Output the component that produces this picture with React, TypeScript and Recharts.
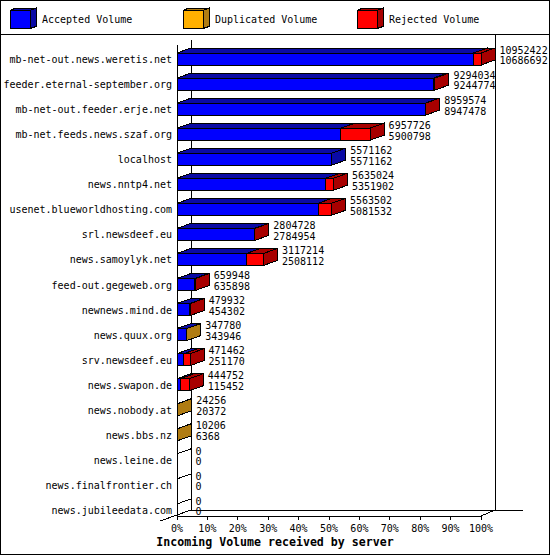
import React from 'react';
import { BarChart, Bar, XAxis, YAxis } from 'recharts';

const servers = [
  'mb-net-out.news.weretis.net',
  'feeder.eternal-september.org',
  'mb-net-out.feeder.erje.net',
  'mb-net.feeds.news.szaf.org',
  'localhost',
  'news.nntp4.net',
  'usenet.blueworldhosting.com',
  'srl.newsdeef.eu',
  'news.samoylyk.net',
  'feed-out.gegeweb.org',
  'newnews.mind.de',
  'news.quux.org',
  'srv.newsdeef.eu',
  'news.swapon.de',
  'news.nobody.at',
  'news.bbs.nz',
  'news.leine.de',
  'news.finalfrontier.ch',
  'news.jubileedata.com',
];
const offered = [10952422, 9294034, 8959574, 6957726, 5571162, 5635024, 5563502, 2804728, 3117214, 659948, 479932, 347780, 471462, 444752, 24256, 10206, 0, 0, 0];
const accepted = [10686692, 9244774, 8947478, 5900798, 5571162, 5351902, 5081532, 2784954, 2508112, 635898, 454302, 343946, 251170, 115452, 20372, 6368, 0, 0, 0];
const duplicated = [0, 0, 0, 0, 0, 0, 0, 0, 0, 0, 0, 3834, 0, 0, 3884, 3838, 0, 0, 0];
const rejected = [265730, 49260, 12096, 1056928, 0, 283122, 481970, 19774, 609102, 24050, 25630, 0, 220292, 329300, 0, 0, 0, 0, 0];
const tickPercents = [0, 10, 20, 30, 40, 50, 60, 70, 80, 90, 100];

const FONT = '"DejaVu Sans Mono", monospace';
const W = 550;
const H = 555;
const PLOT_LEFT = 177;
const PLOT_TOP = 40;
const PLOT_RIGHT = 481;
const PLOT_BOTTOM = 516;
const DX = 14;
const DY = 5;
const FACE_H = 12;

const series = [
  { key: 'accepted', name: 'Accepted Volume', face: '#0000ff', side: '#0a0aa5' },
  { key: 'duplicated', name: 'Duplicated Volume', face: '#ffb000', side: '#b07c12' },
  { key: 'rejected', name: 'Rejected Volume', face: '#ff0000', side: '#a80000' },
];

const rows = servers.map((name, i) => ({
  name,
  offered: offered[i],
  accepted: accepted[i],
  duplicated: duplicated[i],
  rejected: rejected[i],
}));

const MAX = Math.max(...offered);
const tickValues = tickPercents.map((p) => (p / 100) * MAX);

const box = (x: number, w: number, top: number, bot: number, face: string, side: string) => (
  <g>
    <polygon
      points={`${x},${top} ${x + DX},${top - DY} ${x + w + DX},${top - DY} ${x + w},${top}`}
      fill={side}
      stroke="#000"
    />
    <rect x={x} y={top} width={w} height={bot - top} fill={face} stroke="#000" />
    <polygon
      points={`${x + w},${top} ${x + w + DX},${top - DY} ${x + w + DX},${bot - DY} ${x + w},${bot}`}
      fill={side}
      stroke="#000"
    />
  </g>
);

const makeShape = (key: string, face: string, side: string) => (props: any) => {
  const { x, y, width, height, payload } = props;
  const cy = y + height / 2;
  const top = cy + 0.5;
  const bot = top + FACE_H;
  const v = payload[key];
  const w = Math.max(0, width || 0);
  return (
    <g>
      {v > 0 && box(x, w, top, bot, face, side)}
      {key === 'rejected' && payload.offered === 0 && (
        <line x1={x} y1={top} x2={x + DX} y2={top - DY} stroke="#000" />
      )}
      {key === 'rejected' && (
        <g fontFamily={FONT} fontSize={10} fill="#000">
          <text x={x + w + 18.5} y={cy + 1.2}>{payload.offered}</text>
          <text x={x + w + 18.5} y={cy + 11.9}>{payload.accepted}</text>
        </g>
      )}
    </g>
  );
};

const YTick = (props: any) => {
  const { x, y, payload } = props;
  return (
    <text x={x} y={y + 10.5} textAnchor="end" fontFamily={FONT} fontSize={10} fill="#000">
      {payload.value}
    </text>
  );
};

const legendX = [10, 183, 357];

const Frame = () => (
  <svg
    width={W}
    height={H}
    style={{ position: 'absolute', left: 0, top: 0 }}
    shapeRendering="crispEdges"
  >
    <rect x={0.5} y={0.5} width={W - 1} height={H - 1} fill="#fff" stroke="#000" />
    <line x1={0} y1={34.5} x2={W} y2={34.5} stroke="#000" />
    {series.map((s, i) => (
      <g key={s.key}>
        <polygon
          points={`${legendX[i]},10.5 ${legendX[i] + 6},8 ${legendX[i] + 26},8 ${legendX[i] + 20},10.5`}
          fill={s.side}
          stroke="#000"
        />
        <polygon
          points={`${legendX[i] + 20},10.5 ${legendX[i] + 26},8 ${legendX[i] + 26},26.5 ${legendX[i] + 20},28.5`}
          fill={s.side}
          stroke="#000"
        />
        <rect x={legendX[i]} y={10.5} width={20} height={18} fill={s.face} stroke="#000" />
        <text x={legendX[i] + 32} y={23} fontFamily={FONT} fontSize={10} fill="#000">
          {s.name}
        </text>
      </g>
    ))}
    <line x1={PLOT_LEFT} y1={PLOT_TOP + DY} x2={PLOT_LEFT} y2={PLOT_BOTTOM} stroke="#000" />
    <line x1={PLOT_LEFT + DX} y1={PLOT_TOP} x2={PLOT_LEFT + DX} y2={PLOT_BOTTOM - 6} stroke="#000" />
    <line x1={PLOT_RIGHT + DX} y1={34} x2={PLOT_RIGHT + DX} y2={PLOT_BOTTOM - 6} stroke="#000" />
    <line x1={PLOT_LEFT + DX} y1={PLOT_BOTTOM - 6} x2={523} y2={PLOT_BOTTOM - 6} stroke="#000" />
    <line x1={160} y1={PLOT_BOTTOM + 5} x2={PLOT_LEFT + DX} y2={PLOT_BOTTOM - 6} stroke="#000" />
    <line x1={PLOT_RIGHT} y1={PLOT_BOTTOM} x2={PLOT_RIGHT + DX} y2={PLOT_BOTTOM - 6} stroke="#000" />
    <text
      x={W / 2}
      y={546}
      textAnchor="middle"
      fontFamily={FONT}
      fontSize={11.6}
      fontWeight="bold"
      fill="#000"
    >
      Incoming Volume received by server
    </text>
  </svg>
);

export default function App() {
  return (
    <div style={{ position: 'absolute', left: 0, top: 0, width: W, height: H, background: '#fff' }}>
      <Frame />
      <div style={{ position: 'absolute', left: 0, top: 0 }}>
        <BarChart
          layout="vertical"
          width={W}
          height={H}
          data={rows}
          barCategoryGap={0}
          margin={{ top: PLOT_TOP, right: W - PLOT_RIGHT, bottom: H - PLOT_BOTTOM - 30, left: PLOT_LEFT - 170 }}
          style={{ shapeRendering: 'crispEdges' }}
        >
          <XAxis
            type="number"
            domain={[0, MAX]}
            ticks={tickValues}
            interval={0}
            height={30}
            tickSize={4}
            tickMargin={5}
            tickFormatter={(v: number) => `${Math.round((v / MAX) * 100)}%`}
            axisLine={{ stroke: '#000' }}
            tickLine={{ stroke: '#000' }}
            tick={{ fill: '#000', fontSize: 10, fontFamily: FONT }}
          />
          <YAxis
            type="category"
            dataKey="name"
            width={170}
            interval={0}
            tickSize={0}
            tickMargin={5}
            axisLine={false}
            tickLine={false}
            tick={<YTick />}
          />
          {series.map((s) => (
            <Bar
              key={s.key}
              dataKey={s.key}
              stackId="vol"
              name={s.name}
              fill={s.face}
              isAnimationActive={false}
              shape={makeShape(s.key, s.face, s.side)}
            />
          ))}
        </BarChart>
      </div>
    </div>
  );
}
